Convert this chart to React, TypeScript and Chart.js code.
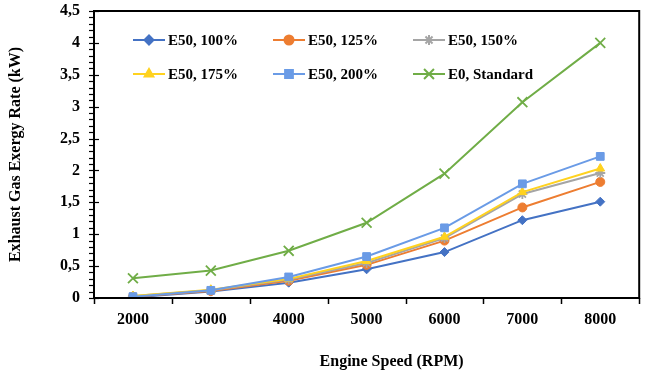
import React, { useEffect, useRef } from "react";
import { Chart, registerables } from "chart.js";
import { drawPoint } from "chart.js/helpers";

Chart.register(...registerables);

const categories = ["2000", "3000", "4000", "5000", "6000", "7000", "8000"];
const e50_100 = [0.01, 0.1, 0.24, 0.45, 0.72, 1.22, 1.51];
const e50_125 = [0.02, 0.11, 0.27, 0.52, 0.9, 1.42, 1.82];
const e50_150 = [0.03, 0.12, 0.29, 0.55, 0.94, 1.63, 1.96];
const e50_175 = [0.03, 0.13, 0.3, 0.58, 0.96, 1.66, 2.03];
const e50_200 = [0.02, 0.12, 0.33, 0.65, 1.1, 1.79, 2.22];
const e0_standard = [0.31, 0.43, 0.74, 1.18, 1.95, 3.07, 4.0];
const seriesNames = ["E50, 100%", "E50, 125%", "E50, 150%", "E50, 175%", "E50, 200%", "E0, Standard"];
const yMax = 4.5;
const yMajorStep = 0.5;
const yMinorStep = 0.1;
const xTitle = "Engine Speed (RPM)";
const yTitle = "Exhaust Gas Exergy Rate (kW)";

const FONT = "'Liberation Serif', 'Times New Roman', serif";

const styles = [
  { color: "#4472C4", pointStyle: "rectRot", radius: 4.5 },
  { color: "#ED7D31", pointStyle: "circle", radius: 4.5 },
  { color: "#A5A5A5", pointStyle: "star", radius: 5 },
  { color: "#FFD21F", pointStyle: "triangle", radius: 5 },
  { color: "#6A9BE6", pointStyle: "rect", radius: 5.5 },
  { color: "#70AD47", pointStyle: "crossRot", radius: 7 },
];

const decorPlugin = {
  id: "decor",
  afterDatasetsDraw(chart: any) {
    const { ctx, chartArea } = chart;
    const { left, right, top, bottom } = chartArea;
    const y = chart.scales.y;
    ctx.save();
    // frame
    ctx.strokeStyle = "#000";
    ctx.lineWidth = 2;
    ctx.strokeRect(left, top, right - left, bottom - top);
    // y ticks
    ctx.lineWidth = 1.2;
    const n = Math.round(yMax / yMinorStep);
    for (let i = 0; i <= n; i++) {
      const v = i * yMinorStep;
      const py = Math.round(y.getPixelForValue(v)) + 0.5;
      const major = i % Math.round(yMajorStep / yMinorStep) === 0;
      ctx.beginPath();
      ctx.moveTo(left - 5, py);
      ctx.lineTo(major ? left + 5 : left, py);
      ctx.stroke();
    }
    // x ticks between categories
    ctx.lineWidth = 1.5;
    const nc = categories.length;
    for (let i = 0; i <= nc; i++) {
      const px = Math.round(left + (i * (right - left)) / nc) + 0.5;
      ctx.beginPath();
      ctx.moveTo(px, bottom);
      ctx.lineTo(px, bottom + 6);
      ctx.stroke();
    }
    // legend
    ctx.font = `bold 15px ${FONT}`;
    ctx.textBaseline = "middle";
    ctx.textAlign = "left";
    chart.data.datasets.forEach((ds: any, i: number) => {
      const col = i % 3;
      const row = Math.floor(i / 3);
      const lx = left + 39 + col * 140;
      const ly = top + 29 + row * 34;
      ctx.strokeStyle = ds.borderColor;
      ctx.lineWidth = 2;
      ctx.beginPath();
      ctx.moveTo(lx, ly);
      ctx.lineTo(lx + 32, ly);
      ctx.stroke();
      ctx.fillStyle = ds.pointBackgroundColor;
      ctx.strokeStyle = ds.pointBorderColor;
      drawPoint(ctx, { pointStyle: ds.pointStyle, radius: ds.pointRadius, rotation: 0, borderWidth: ds.pointBorderWidth }, lx + 16, ly);
      ctx.fillStyle = "#000";
      ctx.fillText(ds.label, lx + 35, ly + 1);
    });
    // x title
    ctx.font = `bold 16px ${FONT}`;
    ctx.textAlign = "center";
    ctx.fillStyle = "#000";
    ctx.fillText(xTitle, (left + right) / 2 + 25, 362);
    ctx.restore();
  },
};

export default function App() {
  const ref = useRef<HTMLCanvasElement | null>(null);
  useEffect(() => {
    if (!ref.current) return;
    const seriesData = [e50_100, e50_125, e50_150, e50_175, e50_200, e0_standard];
    const chart = new Chart(ref.current, {
      type: "line",
      data: {
        labels: categories,
        datasets: seriesData.map((d, i) => ({
          label: seriesNames[i],
          data: d,
          borderColor: styles[i].color,
          backgroundColor: styles[i].color,
          pointBackgroundColor: styles[i].color,
          pointBorderColor: styles[i].color,
          pointStyle: styles[i].pointStyle,
          pointRadius: styles[i].radius,
          pointBorderWidth: styles[i].pointStyle === "crossRot" || styles[i].pointStyle === "star" ? 1.8 : 1,
          borderWidth: 2,
          tension: 0,
          fill: false,
          order: seriesData.length - i,
        })),
      },
      options: {
        animation: false,
        responsive: true,
        maintainAspectRatio: false,
        layout: { padding: { left: 0, top: 11, right: 6, bottom: 0 } },
        plugins: { legend: { display: false }, tooltip: { enabled: false } },
        scales: {
          x: {
            type: "category",
            offset: true,
            grid: { display: false, drawTicks: false, offset: true },
            border: { display: false },
            ticks: { color: "#000", padding: 12, font: { family: FONT, size: 16, weight: "bold" } },
            afterFit: (s: any) => { s.height = 79; },
          },
          y: {
            min: 0,
            max: yMax,
            grid: { display: false, drawTicks: false },
            border: { display: false },
            ticks: {
              stepSize: yMajorStep,
              color: "#000",
              padding: 14,
              font: { family: FONT, size: 16, weight: "bold" },
              callback: (v: any) => String(Math.round(Number(v) * 10) / 10).replace(".", ","),
            },
            title: { display: true, text: yTitle, color: "#000", padding: { top: 6, bottom: 0 }, font: { family: FONT, size: 16, weight: "bold" } },
            afterFit: (s: any) => { s.width = 94; s.paddingTop = 0; s.paddingBottom = 0; },
          },
        },
      },
      plugins: [decorPlugin],
    });
    return () => chart.destroy();
  }, []);
  return (
    <div style={{ position: "fixed", left: 0, top: 0, width: 648, height: 377, background: "#fff" }}>
      <canvas ref={ref} />
    </div>
  );
}
